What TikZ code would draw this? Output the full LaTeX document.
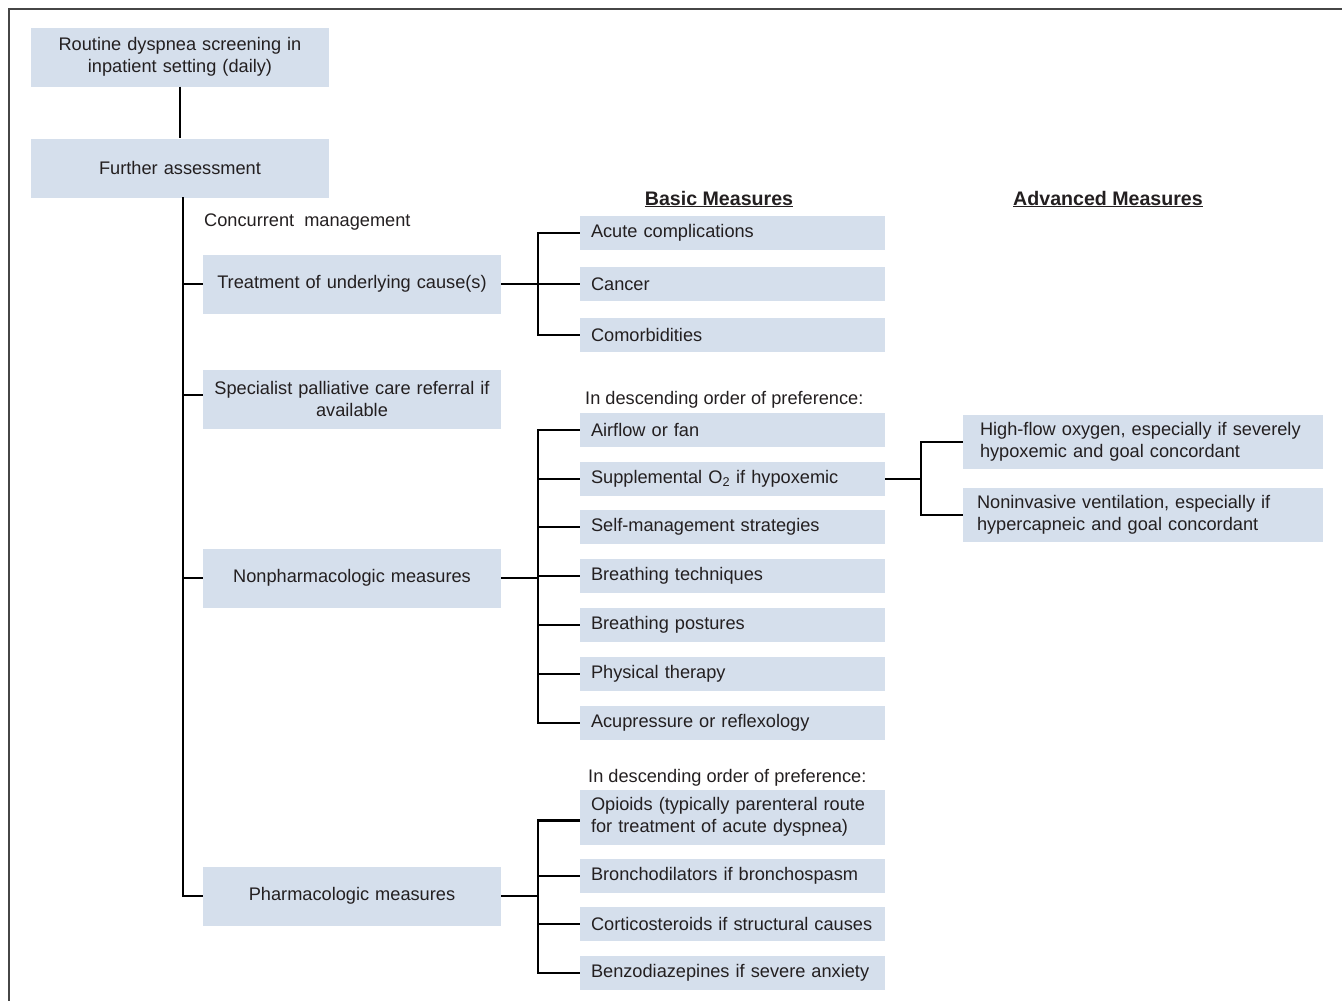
\documentclass[tikz,border=0pt]{standalone}
\usepackage{fontspec}
\setmainfont{Liberation Sans}
\definecolor{boxc}{RGB}{213,223,236}
\definecolor{txt}{RGB}{35,31,32}
\definecolor{frame}{RGB}{70,70,70}
\newcommand\fsz{\fontsize{18.2}{21.5}\selectfont}
\newcommand\hsz{\fontsize{19.6}{22}\selectfont}
\begin{document}
\begin{tikzpicture}[x=1pt,y=-1pt,
 box/.style={fill=boxc, inner sep=0pt, text=txt, font=\fsz},
 lbox/.style={box, minimum width=298pt, minimum height=59pt, align=center, text width=294pt},
 rbox/.style={box, minimum width=305pt, minimum height=34pt, text width=283pt, align=left},
 abox/.style={box, minimum width=360pt, minimum height=54pt, text width=326pt, align=left},
 conn/.style={line width=2.6pt, black, line join=miter},
 lbl/.style={text=txt, font=\fsz, inner sep=0pt, anchor=west},
 head/.style={text=txt, font=\hsz\bfseries, inner sep=0pt}]
\useasboundingbox (0,0) rectangle (1342,1001);
\draw[line width=2pt, frame] (9,1001) -- (9,9) -- (1342,9);

% left column
\node[lbox] (screen) at (180,57) {Routine dyspnea screening in\\inpatient setting (daily)};
\node[lbox] (further) at (180,168) {Further assessment};
\node[lbl] (conc) at (204,222) {Concurrent\ \ management};
\node[lbox] (treat) at (352,284) {Treatment of underlying cause(s)};
\node[lbox] (spec) at (352,399) {Specialist palliative care referral if\\available};
\node[lbox] (nonph) at (352,578) {Nonpharmacologic measures};
\node[lbox] (pharm) at (352,896) {Pharmacologic measures};

% headings
\node[head] (basic) at (719,199) {\underline{Basic Measures}};
\node[head] (adv) at (1108,199) {\underline{Advanced Measures}};

% treatment branch
\node[rbox] (acute) at (732.5,233) {Acute complications};
\node[rbox] (cancer) at (732.5,284) {Cancer};
\node[rbox] (comorb) at (732.5,335) {Comorbidities};

% nonpharmacologic branch
\node[lbl] (pref1) at (585,400) {In descending order of preference:};
\node[rbox] (airflow) at (732.5,430) {Airflow or fan};
\node[rbox] (suppl) at (732.5,479) {Supplemental O\textsubscript{2} if hypoxemic};
\node[rbox] (selfm) at (732.5,527) {Self-management strategies};
\node[rbox] (btech) at (732.5,576) {Breathing techniques};
\node[rbox] (bpost) at (732.5,625) {Breathing postures};
\node[rbox] (phys) at (732.5,674) {Physical therapy};
\node[rbox] (acup) at (732.5,723) {Acupressure or reflexology};

% advanced
\node[abox] (high) at (1143,442) {High-flow oxygen, especially if severely\\hypoxemic and goal concordant};
\node[abox, text width=332pt] (noninv) at (1143,515) {Noninvasive ventilation, especially if\\hypercapneic and goal concordant};

% pharmacologic branch
\node[lbl] (pref2) at (588,778) {In descending order of preference:};
\node[rbox, minimum height=55pt] (opioid) at (732.5,817) {Opioids (typically parenteral route\\for treatment of acute dyspnea)};
\node[rbox] (bronch) at (732.5,876) {Bronchodilators if bronchospasm};
\node[rbox] (cortico) at (732.5,924) {Corticosteroids if structural causes};
\node[rbox] (benzo) at (732.5,973) {Benzodiazepines if severe anxiety};

% connectors
\coordinate (t0) at (183,197);
\draw[conn] (screen.south) -- (further.north);
\draw[conn] (t0) -- (t0 |- pharm.west) -- (pharm.west);
\draw[conn] (t0 |- treat.west) -- (treat.west);
\draw[conn] ([yshift=4pt]t0 |- spec.west) -- ([yshift=4pt]spec.west);
\draw[conn] (t0 |- nonph.west) -- (nonph.west);

\coordinate (b1) at (538,284);
\draw[conn] (treat.east) -- (b1);
\draw[conn] (acute.west) -- (acute.west -| b1) -- (comorb.west -| b1) -- (comorb.west);
\draw[conn] (cancer.west) -- (cancer.west -| b1);

\coordinate (b2) at (538,578);
\draw[conn] (nonph.east) -- (b2);
\draw[conn] (airflow.west) -- (airflow.west -| b2) -- (acup.west -| b2) -- (acup.west);
\foreach \n in {suppl,selfm,btech,bpost,phys}
  \draw[conn] (\n.west) -- (\n.west -| b2);

\coordinate (b3) at (538,896);
\coordinate (o3) at ([yshift=-3.5pt]opioid.west);
\draw[conn] (pharm.east) -- (b3);
\draw[conn] (o3) -- (o3 -| b3) -- (benzo.west -| b3) -- (benzo.west);
\foreach \n in {bronch,cortico}
  \draw[conn] (\n.west) -- (\n.west -| b3);

\coordinate (b4) at (921,479);
\draw[conn] (suppl.east) -- (b4);
\draw[conn] (high.west) -- (high.west -| b4) -- (noninv.west -| b4) -- (noninv.west);
\end{tikzpicture}
\end{document}
